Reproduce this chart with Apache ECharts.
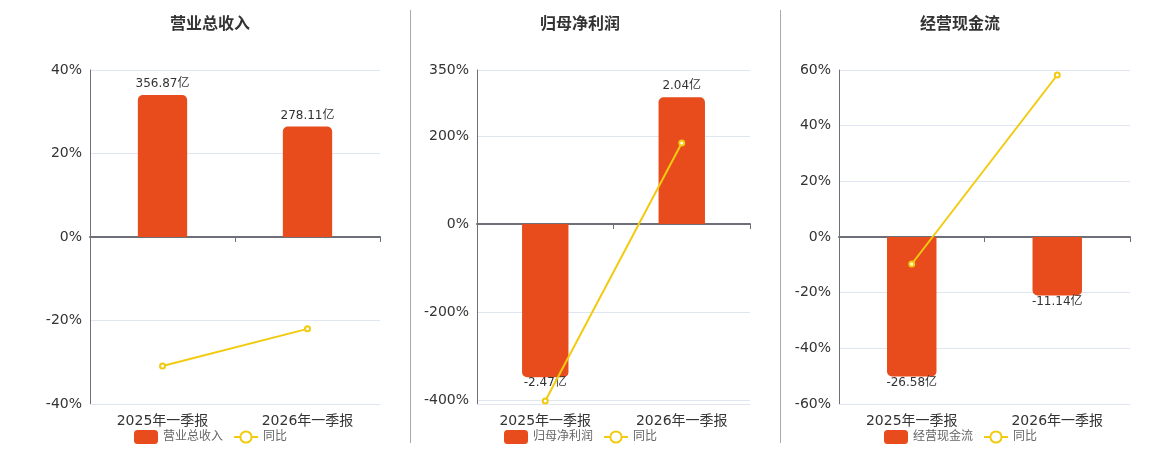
<!DOCTYPE html>
<html>
<head>
<meta charset="utf-8">
<script src="https://cdn.jsdelivr.net/npm/echarts@6/dist/echarts.min.js"></script>
<style>
    html, body {margin: 0; padding: 0; background: #fff;}
    #main {width: 1160px; height: 450px;}
</style>
</head>
<body>
<div id="main"></div>
<script>
    var categories = ['2025年一季报', '2026年一季报'];

    var revenue = [356.87, 278.11];
    var revenueYoy = [-30.9, -22.0];
    var profit = [-2.47, 2.04];
    var profitYoy = [-402, 184];
    var cash = [-26.58, -11.14];
    var cashYoy = [-9.7, 58.2];

    var revenueTicks = [-40, -20, 0, 20, 40];
    var profitTicks = [-400, -200, 0, 200, 350];
    var cashTicks = [-60, -40, -20, 0, 20, 40, 60];

    var FONT = 'DejaVu Sans, Noto Sans CJK SC, sans-serif';
    var BAR = '#E84C1C';
    var LINE = '#F2CA10';

    var panels = [
        {title: '营业总收入', center: 210, left: 90, width: 290, bars: revenue, yoy: revenueYoy,
            ticks: revenueTicks, pmin: -40, pmax: 40, vmin: -420, vmax: 420},
        {title: '归母净利润', center: 580, left: 477, width: 273, bars: profit, yoy: profitYoy,
            ticks: profitTicks, pmin: -409, pmax: 350, vmin: -2.9, vmax: 2.48},
        {title: '经营现金流', center: 960, left: 839, width: 291, bars: cash, yoy: cashYoy,
            ticks: cashTicks, pmin: -60, pmax: 60, vmin: -31.8, vmax: 31.8}
    ];

    var option = {
        animation: false,
        textStyle: {fontFamily: FONT},
        title: [], legend: [], grid: [], xAxis: [], yAxis: [], series: [],
        graphic: [
            {type: 'line', shape: {x1: 410.5, y1: 10, x2: 410.5, y2: 443}, style: {stroke: '#aaa', lineWidth: 1}},
            {type: 'line', shape: {x1: 780.5, y1: 10, x2: 780.5, y2: 443}, style: {stroke: '#aaa', lineWidth: 1}}
        ]
    };

    panels.forEach(function (p, i) {
        option.title.push({
            text: p.title, left: p.center - 5, top: 12, textAlign: 'center',
            textStyle: {fontSize: 16, fontWeight: 'bold', color: '#333', fontFamily: FONT}
        });
        // legend.left is the left edge, so shift it by about half its width
        option.legend.push({
            data: [p.title, '同比'], left: p.center - 81, top: 425,
            itemWidth: 24, itemHeight: 14, itemGap: 10,
            textStyle: {fontSize: 12, color: '#666', fontFamily: FONT}
        });
        option.grid.push({left: p.left, width: p.width, top: 70, height: 334});

        // labels along the bottom of the grid
        option.xAxis.push({
            type: 'category', gridIndex: i, data: categories, position: 'bottom',
            axisLine: {onZero: false, lineStyle: {color: '#E0E6F1'}},
            axisTick: {show: false},
            axisLabel: {fontSize: 14, color: '#333', margin: 10}
        });
        // the zero line with its ticks
        option.xAxis.push({
            type: 'category', gridIndex: i, data: categories, position: 'bottom',
            axisLine: {onZero: true, lineStyle: {color: '#6E7079', width: 2}},
            axisTick: {show: true, length: 5, lineStyle: {color: '#6E7079'}},
            axisLabel: {show: false}
        });

        option.yAxis.push({
            type: 'value', gridIndex: i, min: p.pmin, max: p.pmax,
            axisLine: {show: true, lineStyle: {color: '#6E7079'}},
            axisTick: {show: false, customValues: p.ticks},
            axisLabel: {fontSize: 14, color: '#333', customValues: p.ticks, formatter: '{value}%'},
            splitLine: {show: true, lineStyle: {color: '#E0E6F1'}}
        });
        option.yAxis.push({
            type: 'value', gridIndex: i, min: p.vmin, max: p.vmax, show: false,
            splitLine: {show: false}
        });

        option.series.push({
            name: p.title, type: 'bar', xAxisIndex: i * 2, yAxisIndex: i * 2 + 1,
            barWidth: '34%',
            itemStyle: {color: BAR},
            label: {show: true, fontSize: 12, color: '#333', fontFamily: FONT, formatter: '{c}亿'},
            data: p.bars.map(function (v) {
                return {
                    value: v,
                    itemStyle: {borderRadius: v >= 0 ? [5, 5, 0, 0] : [0, 0, 5, 5]},
                    label: {position: v >= 0 ? 'top' : 'bottom', distance: v >= 0 ? 5 : 0}
                };
            })
        });
        option.series.push({
            name: '同比', type: 'line', xAxisIndex: i * 2, yAxisIndex: i * 2,
            symbol: 'emptyCircle', symbolSize: 5,
            itemStyle: {color: LINE},
            lineStyle: {color: LINE, width: 2},
            data: p.yoy
        });
    });

    echarts.init(document.getElementById('main')).setOption(option);
</script>
</body>
</html>
